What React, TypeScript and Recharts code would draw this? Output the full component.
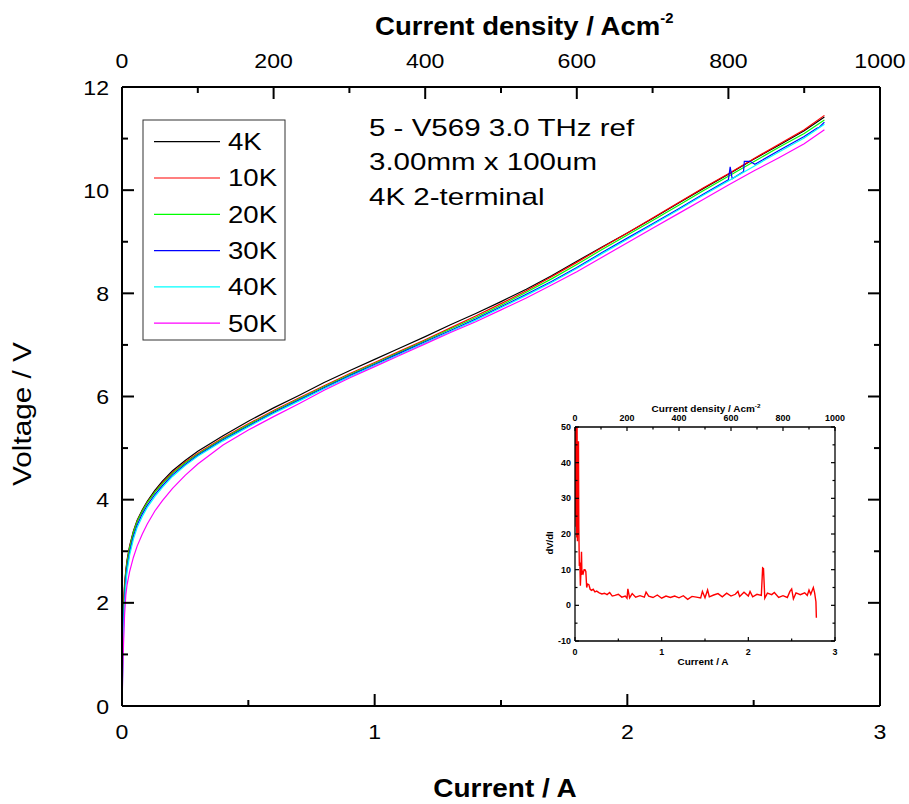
import { LineChart, Line, XAxis, YAxis } from "recharts";

const FONT = '"Liberation Sans", Arial, Helvetica, sans-serif';

// device area 3.00 mm x 100 um, in cm^2 (links the current and current-density axes)
const AREA = 0.3 * 0.01;

// current (A) sample points shared by the I-V sweeps
const current = [
  0, 0.003, 0.006, 0.01, 0.015, 0.02, 0.03, 0.045, 0.06, 0.08,
  0.1, 0.13, 0.16, 0.2, 0.25, 0.3, 0.4, 0.5, 0.6, 0.7,
  0.8, 0.9, 1.0, 1.1, 1.2, 1.3, 1.4, 1.5, 1.6, 1.7,
  1.8, 1.9, 2.0, 2.1, 2.2, 2.3, 2.4, 2.5, 2.6, 2.7,
  2.78,
];

const v4K = [
  0, 1.5, 1.95, 2.35, 2.62, 2.83, 3.1, 3.39, 3.6, 3.8,
  3.97, 4.18, 4.36, 4.56, 4.76, 4.94, 5.24, 5.52, 5.78, 6.02,
  6.27, 6.5, 6.72, 6.94, 7.16, 7.39, 7.61, 7.84, 8.08, 8.34,
  8.62, 8.9, 9.17, 9.45, 9.74, 10.03, 10.31, 10.6, 10.87, 11.15,
  11.42,
];
const v10K = [
  0, 1.55, 1.95, 2.3, 2.6, 2.8, 3.08, 3.37, 3.58, 3.78,
  3.95, 4.15, 4.33, 4.53, 4.73, 4.9, 5.2, 5.47, 5.73, 5.97,
  6.21, 6.44, 6.66, 6.88, 7.1, 7.33, 7.56, 7.8, 8.05, 8.32,
  8.6, 8.89, 9.17, 9.46, 9.75, 10.04, 10.32, 10.61, 10.89, 11.17,
  11.45,
];
const v20K = [
  0, 1.3, 1.8, 2.2, 2.55, 2.77, 3.06, 3.36, 3.57, 3.77,
  3.94, 4.14, 4.31, 4.51, 4.71, 4.88, 5.18, 5.45, 5.71, 5.95,
  6.19, 6.42, 6.64, 6.86, 7.08, 7.31, 7.53, 7.77, 8.02, 8.28,
  8.56, 8.85, 9.13, 9.41, 9.7, 9.99, 10.27, 10.55, 10.83, 11.1,
  11.36,
];
// 30K has two glitches near 2.4 A, so it carries its own current points
const current30K = current.slice(0, 37).concat([
  2.407, 2.415, 2.46, 2.463, 2.485, 2.505, 2.6, 2.7, 2.75, 2.76, 2.78,
]);
const v30K = [
  0, 1.0, 1.6, 2.05, 2.45, 2.68, 2.98, 3.29, 3.51, 3.72,
  3.89, 4.1, 4.27, 4.48, 4.68, 4.86, 5.16, 5.43, 5.69, 5.93,
  6.17, 6.4, 6.62, 6.84, 7.06, 7.28, 7.5, 7.74, 7.98, 8.23,
  8.5, 8.79, 9.07, 9.35, 9.63, 9.92, 10.2,
  10.45, 10.22, 10.36, 10.56, 10.56, 10.5, 10.77, 11.04, 11.2, 11.22, 11.32,
];
const v40K = [
  0, 0.7, 1.4, 1.95, 2.35, 2.6, 2.92, 3.23, 3.46, 3.67,
  3.85, 4.06, 4.24, 4.45, 4.66, 4.84, 5.14, 5.41, 5.67, 5.91,
  6.15, 6.38, 6.6, 6.82, 7.04, 7.26, 7.48, 7.72, 7.96, 8.21,
  8.48, 8.77, 9.05, 9.33, 9.61, 9.9, 10.18, 10.46, 10.74, 11.01,
  11.28,
];
const v50K = [
  0, 0.6, 1.2, 1.75, 2.15, 2.35, 2.6, 2.88, 3.1, 3.33,
  3.53, 3.78, 3.98, 4.22, 4.47, 4.69, 5.06, 5.35, 5.61, 5.86,
  6.12, 6.36, 6.58, 6.8, 7.02, 7.24, 7.45, 7.68, 7.91, 8.16,
  8.42, 8.7, 8.98, 9.26, 9.54, 9.82, 10.1, 10.37, 10.63, 10.9,
  11.17,
];

// inset: differential resistance dV/dI vs current
const dvdi: [number, number][] = [
  [0, 60], [0.004, 25], [0.008, 58], [0.012, 22], [0.016, 55], [0.02, 19],
  [0.024, 50], [0.028, 18], [0.032, 46], [0.036, 20], [0.04, 46], [0.044, 22],
  [0.05, 11], [0.056, 12], [0.062, 5.5], [0.068, 9], [0.075, 15], [0.08, 8.5],
  [0.086, 9.5], [0.095, 9], [0.105, 10], [0.115, 10], [0.125, 9.5], [0.135, 5],
  [0.145, 6], [0.16, 5.8], [0.175, 4.5], [0.19, 4.2], [0.21, 4.5], [0.23, 3.8],
  [0.25, 4], [0.28, 3.5], [0.31, 3.2], [0.34, 3.4], [0.37, 3.0], [0.4, 3.6],
  [0.43, 2.6], [0.46, 2.8], [0.5, 3.1], [0.54, 2.3], [0.58, 2.6], [0.6, 2.0],
  [0.61, 4.6], [0.63, 2.1], [0.66, 3.3], [0.7, 2.3], [0.75, 2.7], [0.8, 2.3],
  [0.82, 3.7], [0.85, 2.6], [0.9, 2.2], [0.95, 2.9], [1.0, 2.0], [1.05, 2.6],
  [1.1, 2.2], [1.15, 2.6], [1.2, 2.1], [1.25, 2.7], [1.3, 1.7], [1.35, 2.5],
  [1.4, 2.3], [1.45, 2.1], [1.47, 3.9], [1.5, 2.1], [1.53, 4.3], [1.55, 2.4],
  [1.6, 2.9], [1.65, 3.3], [1.7, 2.4], [1.75, 3.4], [1.8, 2.6], [1.85, 3.1],
  [1.88, 3.9], [1.9, 2.5], [1.95, 3.7], [2.0, 2.6], [2.02, 3.9], [2.05, 2.4],
  [2.1, 3.1], [2.15, 2.8], [2.165, 10.5], [2.175, 10.3], [2.19, 2.0], [2.22, 3.4],
  [2.27, 3.0], [2.3, 3.6], [2.35, 2.2], [2.4, 2.7], [2.45, 2.2], [2.48, 3.9],
  [2.5, 4.6], [2.52, 1.8], [2.55, 3.5], [2.6, 3.0], [2.65, 3.5], [2.68, 2.8],
  [2.7, 4.3], [2.72, 3.1], [2.75, 5.0], [2.765, 3.5], [2.78, 1.0], [2.785, -3.5],
];

const currentTicks = [0, 0.5, 1, 1.5, 2, 2.5, 3];
const currentMajors = [0, 1, 2, 3];
const voltageTicks = [0, 1, 2, 3, 4, 5, 6, 7, 8, 9, 10, 11, 12];
const voltageMajors = [0, 2, 4, 6, 8, 10, 12];
const densityTicks = [0, 100, 200, 300, 400, 500, 600, 700, 800, 900, 1000];
const densityMajors = [0, 200, 400, 600, 800, 1000];
const dvdiTicks = [-10, -5, 0, 5, 10, 15, 20, 25, 30, 35, 40, 45, 50];
const dvdiMajors = [-10, 0, 10, 20, 30, 40, 50];

const annotation = ["5 - V569 3.0 THz ref", "3.00mm x 100um", "4K 2-terminal"];

const series = [
  { name: "4K", color: "#000000", xs: current, ys: v4K },
  { name: "10K", color: "#ff0000", xs: current, ys: v10K },
  { name: "20K", color: "#00ff00", xs: current, ys: v20K },
  { name: "30K", color: "#0000ff", xs: current30K, ys: v30K },
  { name: "40K", color: "#00ffff", xs: current, ys: v40K },
  { name: "50K", color: "#ff00ff", xs: current, ys: v50K },
];

const toPoints = (xs: number[], ys: number[]) => xs.map((i, k) => ({ i, v: ys[k] }));
const dvdiPoints = dvdi.map(([i, v]) => ({ i, v }));
// same sweeps expressed in current density, only used to drive the top/right axes
const densityPoints = current.map((i, k) => ({ i: i / AREA, v: v4K[k] }));
const dvdiDensityPoints = dvdi.map(([i, v]) => ({ i: i / AREA, v }));

type Side = "bottom" | "top" | "left" | "right";
interface TickStyle {
  major: number;
  minor: number;
  size: number;
  bold: boolean;
  sx: number;
  width: number;
}

const mainTick: TickStyle = { major: 12, minor: 6, size: 21, bold: false, sx: 1.1, width: 2 };
const insetTick: TickStyle = { major: 4, minor: 2.5, size: 8.5, bold: true, sx: 1.05, width: 1.2 };

// inward ticks (major + minor), labels only on majors
function makeTick(side: Side, majors: number[], st: TickStyle, gap: number, labels = true) {
  return function TickMark(props: any) {
    const { x, y, payload } = props;
    const v = payload.value as number;
    const isMajor = majors.includes(v);
    const len = isMajor ? st.major : st.minor;
    const dx = side === "left" ? len : side === "right" ? -len : 0;
    const dy = side === "bottom" ? -len : side === "top" ? len : 0;
    let label = null;
    if (labels && isMajor) {
      let tx = x;
      let ty = y;
      let anchor: "middle" | "end" = "middle";
      if (side === "bottom") ty = y + gap;
      if (side === "top") ty = y - gap;
      if (side === "left") {
        tx = x - gap;
        ty = y + st.size * 0.36;
        anchor = "end";
      }
      label = (
        <text
          transform={`translate(${tx},${ty}) scale(${st.sx},1)`}
          textAnchor={anchor}
          fontSize={st.size}
          fontWeight={st.bold ? "bold" : "normal"}
          fontFamily={FONT}
          fill="#000"
        >
          {v}
        </text>
      );
    }
    return (
      <g>
        <line x1={x} y1={y} x2={x + dx} y2={y + dy} stroke="#000" strokeWidth={st.width} />
        {label}
      </g>
    );
  };
}

const mainAxisLine = { stroke: "#000", strokeWidth: 2 };
const insetAxisLine = { stroke: "#000", strokeWidth: 1.3 };

function Inset() {
  return (
    <LineChart width={320} height={275} margin={{ top: 0, right: 0, bottom: 0, left: 0 }}>
      <XAxis
        xAxisId="b"
        dataKey="i"
        type="number"
        domain={[0, 3]}
        ticks={currentTicks}
        interval={0}
        allowDataOverflow
        height={32}
        tickSize={0}
        tickMargin={0}
        tickLine={false}
        axisLine={insetAxisLine}
        tick={makeTick("bottom", currentMajors, insetTick, 14)}
      />
      <XAxis
        xAxisId="t"
        dataKey="i"
        orientation="top"
        type="number"
        domain={[0, 1000]}
        ticks={densityTicks}
        interval={0}
        allowDataOverflow
        height={29}
        tickSize={0}
        tickMargin={0}
        tickLine={false}
        axisLine={insetAxisLine}
        tick={makeTick("top", densityMajors, insetTick, 6)}
      />
      <YAxis
        yAxisId="l"
        type="number"
        domain={[-10, 50]}
        ticks={dvdiTicks}
        interval={0}
        allowDataOverflow
        width={35}
        tickSize={0}
        tickMargin={0}
        tickLine={false}
        axisLine={insetAxisLine}
        tick={makeTick("left", dvdiMajors, insetTick, 4)}
      />
      <YAxis
        yAxisId="r"
        orientation="right"
        type="number"
        domain={[-10, 50]}
        ticks={dvdiTicks}
        interval={0}
        allowDataOverflow
        width={25}
        tickSize={0}
        tickMargin={0}
        tickLine={false}
        axisLine={insetAxisLine}
        tick={makeTick("right", dvdiMajors, insetTick, 0, false)}
      />
      <Line
        xAxisId="t"
        yAxisId="r"
        data={dvdiDensityPoints}
        dataKey="v"
        stroke="none"
        dot={false}
        activeDot={false}
        legendType="none"
        isAnimationActive={false}
      />
      <Line
        xAxisId="b"
        yAxisId="l"
        data={dvdiPoints}
        dataKey="v"
        type="linear"
        stroke="#ff0000"
        strokeWidth={1.4}
        dot={false}
        isAnimationActive={false}
      />
    </LineChart>
  );
}

export default function App() {
  const legendRows = series.map((s, k) => ({ ...s, y: 21.7 + k * 36.3 }));
  return (
    <div style={{ position: "relative", width: 909, height: 804, background: "#fff" }}>
      <style>{"body{margin:0}"}</style>
      <LineChart width={909} height={804} margin={{ top: 0, right: 0, bottom: 0, left: 0 }}>
        <XAxis
          xAxisId="b"
          dataKey="i"
          type="number"
          domain={[0, 3]}
          ticks={currentTicks}
          interval={0}
          allowDataOverflow
          height={98}
          tickSize={0}
          tickMargin={0}
          tickLine={false}
          axisLine={mainAxisLine}
          tick={makeTick("bottom", currentMajors, mainTick, 33)}
        />
        <XAxis
          xAxisId="t"
          dataKey="i"
          orientation="top"
          type="number"
          domain={[0, 1000]}
          ticks={densityTicks}
          interval={0}
          allowDataOverflow
          height={87}
          tickSize={0}
          tickMargin={0}
          tickLine={false}
          axisLine={mainAxisLine}
          tick={makeTick("top", densityMajors, mainTick, 19)}
        />
        <YAxis
          yAxisId="l"
          type="number"
          domain={[0, 12]}
          ticks={voltageTicks}
          interval={0}
          allowDataOverflow
          width={122}
          tickSize={0}
          tickMargin={0}
          tickLine={false}
          axisLine={mainAxisLine}
          tick={makeTick("left", voltageMajors, mainTick, 13)}
        />
        <YAxis
          yAxisId="r"
          orientation="right"
          type="number"
          domain={[0, 12]}
          ticks={voltageTicks}
          interval={0}
          allowDataOverflow
          width={29}
          tickSize={0}
          tickMargin={0}
          tickLine={false}
          axisLine={mainAxisLine}
          tick={makeTick("right", voltageMajors, mainTick, 0, false)}
        />
        <Line
          xAxisId="t"
          yAxisId="r"
          data={densityPoints}
          dataKey="v"
          stroke="none"
          dot={false}
          activeDot={false}
          legendType="none"
          isAnimationActive={false}
        />
        {series.map((s) => (
          <Line
            key={s.name}
            xAxisId="b"
            yAxisId="l"
            data={toPoints(s.xs, s.ys)}
            dataKey="v"
            name={s.name}
            type="linear"
            stroke={s.color}
            strokeWidth={1.2}
            dot={false}
            isAnimationActive={false}
          />
        ))}
      </LineChart>

      <div style={{ position: "absolute", left: 540, top: 398 }}>
        <Inset />
      </div>

      <svg
        width={909}
        height={804}
        style={{ position: "absolute", left: 0, top: 0, pointerEvents: "none" }}
        fontFamily={FONT}
      >
        {/* main axis titles */}
        <text transform="translate(375,35) scale(1.06,1)" fontSize={26} fontWeight="bold">
          Current density / Acm
          <tspan dy={-12} fontSize={14}>-2</tspan>
        </text>
        <text transform="translate(505,797) scale(1.075,1)" fontSize={26} fontWeight="bold" textAnchor="middle">
          Current / A
        </text>
        <text transform="translate(31,414) rotate(-90) scale(1.19,1)" fontSize={25} textAnchor="middle">
          Voltage / V
        </text>

        {/* legend */}
        <g transform="translate(143,120)">
          <rect x={0} y={0} width={142} height={220} fill="#fff" stroke="#333" strokeWidth={1} />
          {legendRows.map((r) => (
            <g key={r.name}>
              <line x1={11} y1={r.y} x2={77} y2={r.y} stroke={r.color} strokeWidth={1.2} />
              <text transform={`translate(85,${r.y + 8.3}) scale(1.2,1)`} fontSize={23}>
                {r.name}
              </text>
            </g>
          ))}
        </g>

        {/* sample annotation */}
        {annotation.map((t, k) => (
          <text key={t} transform={`translate(369,${135.5 + k * 34.5}) scale(1.23,1)`} fontSize={24}>
            {t}
          </text>
        ))}

        {/* inset titles */}
        <text transform="translate(706,411.5) scale(1.05,1)" fontSize={9.5} fontWeight="bold" textAnchor="middle">
          Current density / Acm
          <tspan dy={-4} fontSize={6}>-2</tspan>
        </text>
        <text transform="translate(703,665) scale(1.05,1)" fontSize={9.5} fontWeight="bold" textAnchor="middle">
          Current / A
        </text>
        <text transform="translate(553,543) rotate(-90)" fontSize={9.5} fontWeight="bold" textAnchor="middle">
          dV/dI
        </text>
      </svg>
    </div>
  );
}
